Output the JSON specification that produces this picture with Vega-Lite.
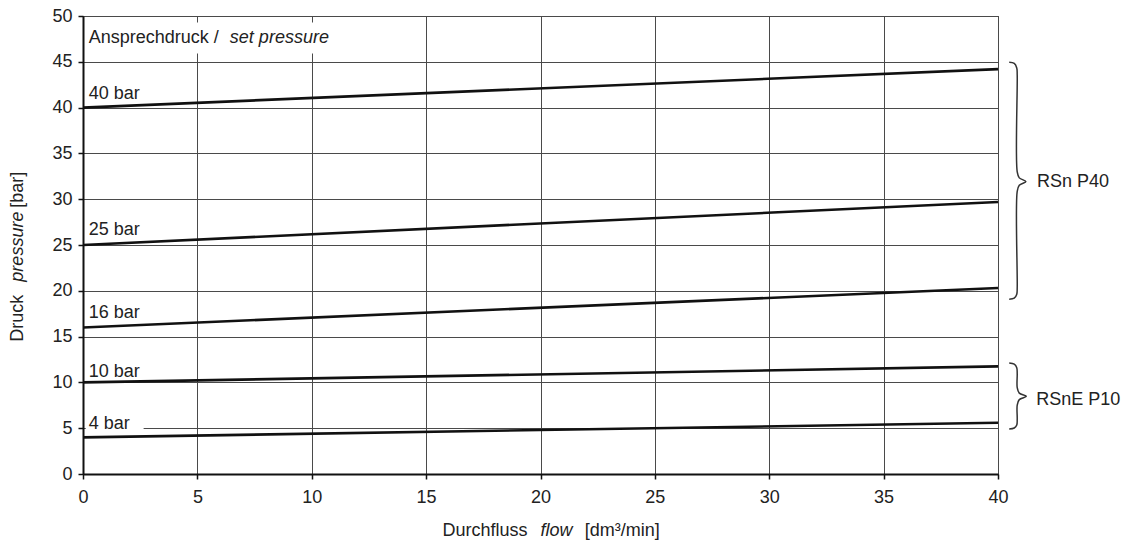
{
  "$schema": "https://vega.github.io/schema/vega-lite/v6.json",
  "width": 915,
  "height": 458,
  "autosize": "none",
  "padding": {"left": 83, "top": 16, "right": 137, "bottom": 68},
  "background": "white",
  "config": {
    "view": {"stroke": "#222", "strokeWidth": 1},
    "font": "Liberation Sans",
    "axis": {
      "grid": true,
      "gridColor": "#4a4a4a",
      "gridWidth": 1,
      "gridOpacity": 1,
      "domainColor": "#111",
      "domainWidth": 2,
      "tickColor": "#111",
      "tickWidth": 1.5,
      "tickSize": 5,
      "labelFont": "Liberation Sans",
      "labelFontSize": 18,
      "labelColor": "#222",
      "labelPadding": 6,
      "labelFlush": false,
      "labelOverlap": false,
      "title": null
    },
    "axisX": {"labelPadding": 9}
  },
  "datasets": {
    "series": [
      {"series": "40 bar", "x": 0, "y": 40}, {"series": "40 bar", "x": 40, "y": 44.2},
      {"series": "25 bar", "x": 0, "y": 25}, {"series": "25 bar", "x": 40, "y": 29.7},
      {"series": "16 bar", "x": 0, "y": 16}, {"series": "16 bar", "x": 40, "y": 20.3},
      {"series": "10 bar", "x": 0, "y": 10}, {"series": "10 bar", "x": 40, "y": 11.75},
      {"series": "4 bar", "x": 0, "y": 4}, {"series": "4 bar", "x": 40, "y": 5.6}
    ],
    "masks": [
      {"x": 0.12, "x2": 2.65, "y": 4.6, "y2": 5.5},
      {"x": 0.12, "x2": 10.9, "y": 45.9, "y2": 49.3}
    ],
    "braces": [
      {"b": "P40", "o": 1, "x": 40.49, "y": 44.95},
      {"b": "P40", "o": 2, "x": 40.71, "y": 44.82},
      {"b": "P40", "o": 3, "x": 40.82, "y": 44.33},
      {"b": "P40", "o": 4, "x": 40.84, "y": 43.57},
      {"b": "P40", "o": 5, "x": 40.84, "y": 32.99},
      {"b": "P40", "o": 6, "x": 40.93, "y": 32.33},
      {"b": "P40", "o": 7, "x": 41.22, "y": 31.93},
      {"b": "P40", "o": 8, "x": 40.93, "y": 31.52},
      {"b": "P40", "o": 9, "x": 40.84, "y": 30.86},
      {"b": "P40", "o": 10, "x": 40.84, "y": 20.34},
      {"b": "P40", "o": 11, "x": 40.82, "y": 19.63},
      {"b": "P40", "o": 12, "x": 40.71, "y": 19.19},
      {"b": "P40", "o": 13, "x": 40.49, "y": 19.08},
      {"b": "P10", "o": 1, "x": 40.49, "y": 12.13},
      {"b": "P10", "o": 2, "x": 40.71, "y": 12.0},
      {"b": "P10", "o": 3, "x": 40.82, "y": 11.61},
      {"b": "P10", "o": 4, "x": 40.84, "y": 10.96},
      {"b": "P10", "o": 5, "x": 40.84, "y": 9.43},
      {"b": "P10", "o": 6, "x": 40.93, "y": 8.83},
      {"b": "P10", "o": 7, "x": 41.24, "y": 8.48},
      {"b": "P10", "o": 8, "x": 40.93, "y": 8.12},
      {"b": "P10", "o": 9, "x": 40.84, "y": 7.52},
      {"b": "P10", "o": 10, "x": 40.84, "y": 6.0},
      {"b": "P10", "o": 11, "x": 40.82, "y": 5.34},
      {"b": "P10", "o": 12, "x": 40.71, "y": 5.02},
      {"b": "P10", "o": 13, "x": 40.49, "y": 4.91}
    ],
    "labels": [
      {"t": "40 bar", "x": 0.25, "y": 40.95},
      {"t": "25 bar", "x": 0.25, "y": 26.1},
      {"t": "16 bar", "x": 0.25, "y": 17.03},
      {"t": "10 bar", "x": 0.25, "y": 10.63},
      {"t": "4 bar", "x": 0.25, "y": 4.93},
      {"t": "Ansprechdruck / ", "x": 0.25, "y": 47.0},
      {"t": "RSn P40", "x": 41.7, "y": 31.35},
      {"t": "RSnE P10", "x": 41.67, "y": 7.52},
      {"t": "Durchfluss", "x": 15.72, "y": -6.78},
      {"t": "[dm³/min]", "x": 21.93, "y": -6.78}
    ],
    "italic": [
      {"t": "set pressure", "x": 6.42, "y": 47.0},
      {"t": "flow", "x": 20.0, "y": -6.78}
    ],
    "vnormal": [
      {"t": "Druck", "x": -2.85, "y": 14.45},
      {"t": "[bar]", "x": -2.85, "y": 29.06}
    ],
    "vitalic": [
      {"t": "pressure", "x": -2.85, "y": 21.0}
    ]
  },
  "encoding": {
    "x": {"field": "x", "type": "quantitative", "scale": {"domain": [0, 40], "nice": false, "zero": false},
          "axis": {"values": [0, 5, 10, 15, 20, 25, 30, 35, 40], "title": null}},
    "y": {"field": "y", "type": "quantitative", "scale": {"domain": [0, 50], "nice": false, "zero": false},
          "axis": {"values": [0, 5, 10, 15, 20, 25, 30, 35, 40, 45, 50], "title": null}}
  },
  "layer": [
    {
      "data": {"name": "masks"},
      "mark": {"type": "rect", "fill": "white", "stroke": null},
      "encoding": {"x2": {"field": "x2"}, "y2": {"field": "y2"}}
    },
    {
      "data": {"name": "series"},
      "mark": {"type": "line", "color": "#111", "strokeWidth": 2.6},
      "encoding": {"detail": {"field": "series"}}
    },
    {
      "data": {"name": "braces"},
      "mark": {"type": "line", "color": "#333", "strokeWidth": 1.5, "interpolate": "catmull-rom", "clip": false},
      "encoding": {"detail": {"field": "b"}, "order": {"field": "o"}}
    },
    {
      "data": {"name": "labels"},
      "mark": {"type": "text", "align": "left", "baseline": "alphabetic", "fontSize": 18, "color": "#222", "font": "Liberation Sans"},
      "encoding": {"text": {"field": "t"}}
    },
    {
      "data": {"name": "italic"},
      "mark": {"type": "text", "align": "left", "baseline": "alphabetic", "fontSize": 18, "fontStyle": "italic", "color": "#222", "font": "Liberation Sans"},
      "encoding": {"text": {"field": "t"}}
    },
    {
      "data": {"name": "vnormal"},
      "mark": {"type": "text", "align": "left", "baseline": "middle", "angle": 270, "fontSize": 18, "color": "#222", "font": "Liberation Sans"},
      "encoding": {"text": {"field": "t"}}
    },
    {
      "data": {"name": "vitalic"},
      "mark": {"type": "text", "align": "left", "baseline": "middle", "angle": 270, "fontSize": 18, "fontStyle": "italic", "color": "#222", "font": "Liberation Sans"},
      "encoding": {"text": {"field": "t"}}
    }
  ]
}
